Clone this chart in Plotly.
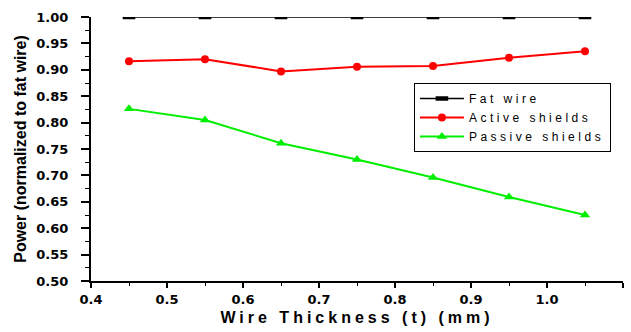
import plotly.graph_objects as go

thickness = [0.45, 0.55, 0.65, 0.75, 0.85, 0.95, 1.05]
fat_wire = [1.0, 1.0, 1.0, 1.0, 1.0, 1.0, 1.0]
active_shields = [0.916, 0.920, 0.897, 0.906, 0.907, 0.923, 0.935]
passive_shields = [0.826, 0.805, 0.761, 0.730, 0.696, 0.659, 0.625]
x_ticks = [0.4, 0.5, 0.6, 0.7, 0.8, 0.9, 1.0, 1.1]
x_labels = ["0.4", "0.5", "0.6", "0.7", "0.8", "0.9", "1.0", "1.1"]
y_ticks = [0.5, 0.55, 0.6, 0.65, 0.7, 0.75, 0.8, 0.85, 0.9, 0.95, 1.0]
y_labels = ["0.50", "0.55", "0.60", "0.65", "0.70", "0.75", "0.80", "0.85", "0.90", "0.95", "1.00"]
series_names = ["Fat wire", "Active shields", "Passive shields"]


def spaced(t, px):
    return '<span style="letter-spacing:%spx">%s</span>' % (px, t)


fig = go.Figure()
fig.add_trace(go.Scatter(x=thickness, y=fat_wire, name=spaced(series_names[0], 3.5), mode="lines+markers",
                         line=dict(color="black", width=1.5),
                         marker=dict(symbol="line-ew", size=9, color="black",
                                     line=dict(color="black", width=4.5))))
fig.add_trace(go.Scatter(x=thickness, y=active_shields, name=spaced(series_names[1], 3.5), mode="lines+markers",
                         line=dict(color="#ff0000", width=2),
                         marker=dict(symbol="circle", size=8, color="#ff0000")))
fig.add_trace(go.Scatter(x=thickness, y=passive_shields, name=spaced(series_names[2], 3.5), mode="lines+markers",
                         line=dict(color="#00ee00", width=2),
                         marker=dict(symbol="triangle-up", size=9, color="#00ee00")))

axis_font = dict(family="DejaVu Sans", size=13, color="black", weight="bold")
fig.update_layout(
    width=631, height=332,
    margin=dict(l=91, r=8, t=17, b=46),
    paper_bgcolor="white", plot_bgcolor="white",
    font=dict(family="Liberation Sans", color="black"),
    showlegend=True,
    legend=dict(x=0.607, y=0.75, xanchor="left", yanchor="top",
                bordercolor="black", borderwidth=1, bgcolor="white",
                font=dict(family="Liberation Sans", size=12, color="black"),
                tracegroupgap=0, itemwidth=44),
    xaxis=dict(range=[0.4, 1.1], tickvals=x_ticks, ticktext=x_labels,
               showline=True, linecolor="black", linewidth=2, mirror=False,
               ticks="outside", ticklen=5, tickwidth=1.5, tickcolor="black",
               minor=dict(ticks="outside", ticklen=3, tickwidth=1, dtick=0.05, tickcolor="black"),
               showgrid=False, zeroline=False, tickfont=axis_font,
               title=dict(text=spaced("Wire Thickness (t) (mm)", 4), standoff=6,
                          font=dict(family="Liberation Sans", size=16, color="black", weight="bold"))),
    yaxis=dict(range=[0.5, 1.0], tickvals=y_ticks, ticktext=y_labels,
               showline=True, linecolor="black", linewidth=2, mirror=False,
               ticks="outside", ticklen=8, tickwidth=1.5, tickcolor="black",
               ticklabelstandoff=10,
               minor=dict(ticks="outside", ticklen=4, tickwidth=1, dtick=0.025, tickcolor="black"),
               showgrid=False, zeroline=False, tickfont=axis_font,
               title=dict(text="Power (normalized to fat wire)", standoff=6,
                          font=dict(family="Liberation Sans", size=16, color="black", weight="bold"))),
)
fig.write_html("out.html")
